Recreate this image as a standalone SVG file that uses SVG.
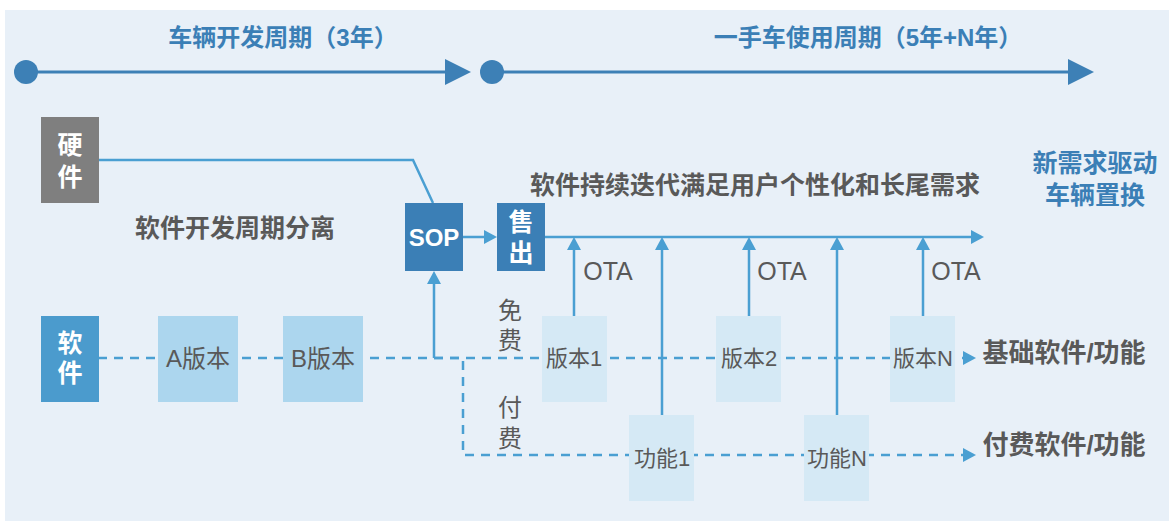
<svg xmlns="http://www.w3.org/2000/svg" width="1169" height="521" viewBox="0 0 1169 521">
<style>
text{font-family:"Liberation Sans","Noto Sans CJK SC",sans-serif;text-anchor:middle;dominant-baseline:central}
.hd{font-weight:700;fill:#3B7FB6;font-size:24px}
.rt{font-weight:700;fill:#3B7FB6;font-size:25px}
.bt{font-weight:700;fill:#595959;font-size:25px}
.bs{font-weight:700;fill:#595959;font-size:26px}
.wt{font-weight:700;fill:#ffffff;font-size:25px}
.sp{font-weight:700;fill:#ffffff;font-size:24px}
.lb{fill:#595959;font-size:22px}
.lg{fill:#595959;font-size:24px}
.ot{fill:#595959;font-size:25px}
.tl{stroke:#3D80B6;stroke-width:3;fill:none}
.ln{stroke:#4A9FD2;stroke-width:2.5;fill:none}
.ds{stroke:#4A9FD2;stroke-width:2.5;fill:none;stroke-dasharray:9 7}
.lt{fill:#ACD6EE}
.vl{fill:#D5E9F5}
</style>
<defs>
<marker id="big" markerUnits="userSpaceOnUse" markerWidth="26" markerHeight="26" refX="12" refY="13" orient="auto"><path d="M0,0 L26,13 L0,26 z" fill="#3D80B6"/></marker>
<marker id="sm" markerUnits="userSpaceOnUse" markerWidth="13" markerHeight="14" refX="6" refY="7" orient="auto"><path d="M0,0 L13,7 L0,14 z" fill="#4A9FD2"/></marker>
</defs>
<rect x="0" y="0" width="1169" height="521" fill="#ffffff"/>
<rect x="5" y="10" width="1164" height="511" fill="#E8F0F8"/>

<g id="timeline">
<text class="hd" x="283" y="37">车辆开发周期（3年）</text>
<text class="hd" x="868" y="37">一手车使用周期（5年+N年）</text>
<line class="tl" x1="26" y1="72" x2="457" y2="72" marker-end="url(#big)"/>
<circle cx="26" cy="72" r="12" fill="#3D80B6"/>
<line class="tl" x1="492" y1="72" x2="1080" y2="72" marker-end="url(#big)"/>
<circle cx="492" cy="72" r="12" fill="#3D80B6"/>
</g>

<g id="connectors">
<polyline class="ln" points="99,160 413,160 433,203"/>
<line class="ln" x1="463" y1="237" x2="490" y2="237" marker-end="url(#sm)"/>
<line class="ln" x1="545" y1="237" x2="977" y2="237" marker-end="url(#sm)"/>
<line class="ln" x1="434" y1="358" x2="434" y2="278" marker-end="url(#sm)"/>
<line class="ds" x1="98" y1="358" x2="969" y2="358" marker-end="url(#sm)"/>
<polyline class="ds" points="434,358 463,358 463,455 969,455" marker-end="url(#sm)"/>
<line class="ln" x1="574" y1="316" x2="574" y2="244" marker-end="url(#sm)"/>
<line class="ln" x1="662" y1="415" x2="662" y2="244" marker-end="url(#sm)"/>
<line class="ln" x1="749" y1="316" x2="749" y2="244" marker-end="url(#sm)"/>
<line class="ln" x1="837" y1="415" x2="837" y2="244" marker-end="url(#sm)"/>
<line class="ln" x1="923" y1="316" x2="923" y2="244" marker-end="url(#sm)"/>
</g>

<g id="hardware">
<rect x="41" y="117" width="58" height="86" fill="#7F7F7F"/>
<text class="wt" x="70" y="145">硬</text>
<text class="wt" x="70" y="177">件</text>
</g>
<g id="sop">
<rect x="405" y="203" width="58" height="68" fill="#3B7FB6"/>
<text class="sp" x="434" y="237">SOP</text>
</g>
<g id="sale">
<rect x="497" y="203" width="48" height="68" fill="#3B7FB6"/>
<text class="wt" x="521" y="222">售</text>
<text class="wt" x="521" y="253">出</text>
</g>
<g id="software">
<rect x="41" y="316" width="58" height="86" fill="#4B9BCD"/>
<text class="wt" x="70" y="343">软</text>
<text class="wt" x="70" y="373">件</text>
</g>
<g id="verA"><rect class="lt" x="158" y="316" width="80" height="86"/><text class="lg" x="198" y="358">A版本</text></g>
<g id="verB"><rect class="lt" x="283" y="316" width="80" height="86"/><text class="lg" x="323" y="358">B版本</text></g>
<g id="ver1"><rect class="vl" x="542" y="316" width="65" height="86"/><text class="lb" x="574" y="358">版本1</text></g>
<g id="ver2"><rect class="vl" x="716" y="316" width="65" height="86"/><text class="lb" x="749" y="358">版本2</text></g>
<g id="verN"><rect class="vl" x="890" y="316" width="65" height="86"/><text class="lb" x="923" y="358">版本N</text></g>
<g id="func1"><rect class="vl" x="629" y="415" width="65" height="86"/><text class="lb" x="662" y="458">功能1</text></g>
<g id="funcN"><rect class="vl" x="804" y="415" width="65" height="86"/><text class="lb" x="837" y="458">功能N</text></g>

<g id="labels">
<text class="bt" x="235" y="228">软件开发周期分离</text>
<text class="bt" x="755" y="185">软件持续迭代满足用户个性化和长尾需求</text>
<text class="rt" x="1095" y="163">新需求驱动</text>
<text class="rt" x="1095" y="195">车辆置换</text>
<text class="ot" x="608" y="271">OTA</text>
<text class="ot" x="782" y="271">OTA</text>
<text class="ot" x="956" y="271">OTA</text>
<text class="lg" x="510" y="310">免</text>
<text class="lg" x="510" y="340">费</text>
<text class="lg" x="510" y="407">付</text>
<text class="lg" x="510" y="438">费</text>
<text class="bs" x="1064" y="353">基础软件/功能</text>
<text class="bs" x="1064" y="445">付费软件/功能</text>
</g>
</svg>
